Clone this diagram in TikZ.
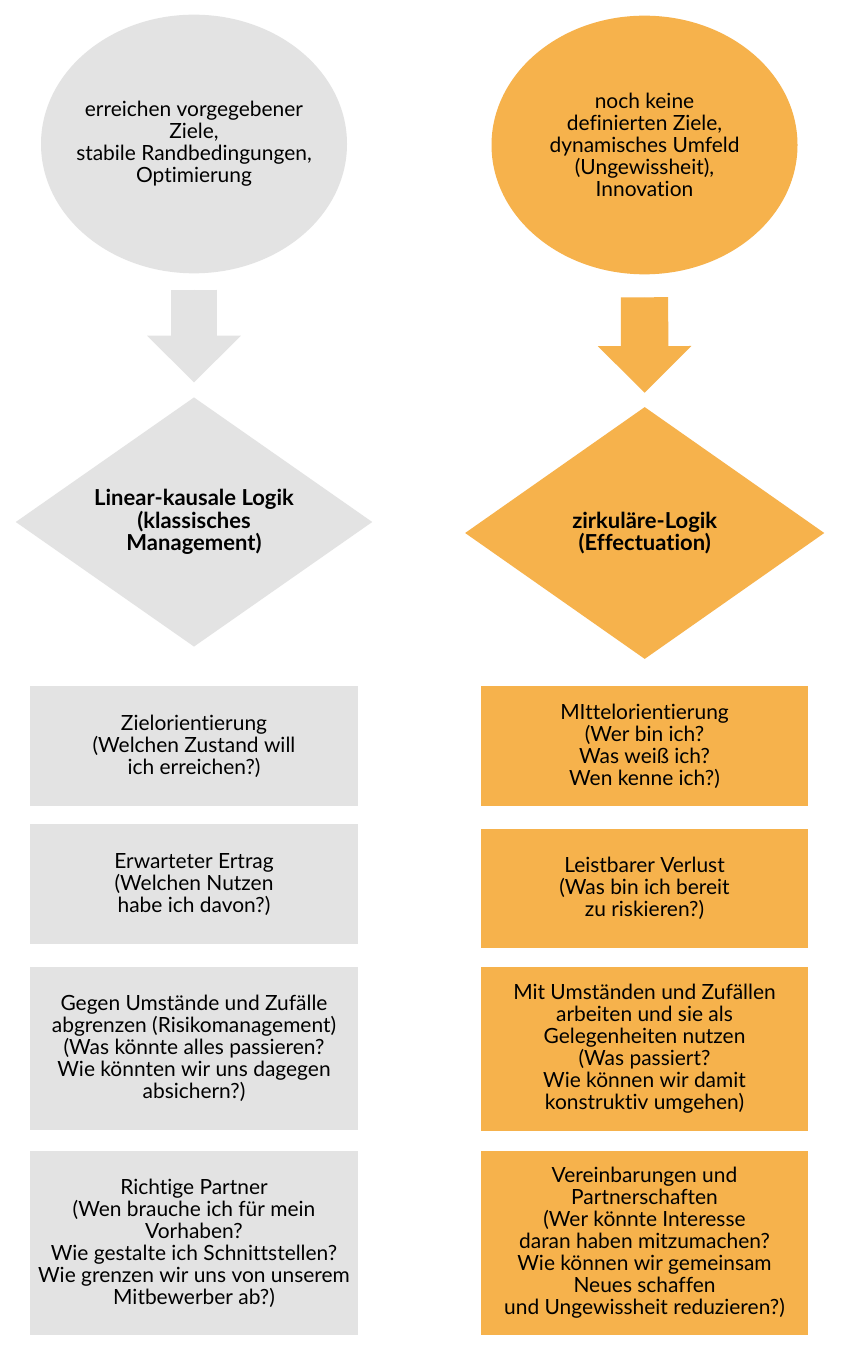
\documentclass[tikz,border=0pt]{standalone}
\usepackage{fontspec}
\setmainfont{Lato}[Ligatures={NoCommon}]
\usetikzlibrary{shapes.geometric,arrows.meta}
\definecolor{lgray}{HTML}{E3E3E3}
\definecolor{orng}{HTML}{F6B24C}
\tikzset{
  txt/.style={align=center, text=black, font=\fontsize{15.7}{16.5}\selectfont, inner sep=0pt},
  oval/.style={txt, shape=ellipse, inner xsep=-60pt, inner ysep=-40pt, minimum width=229.5pt, minimum height=194pt},
  rhomb/.style={txt, shape=diamond, inner xsep=-80pt, inner ysep=-40pt, font=\fontsize{16.5}{16.8}\selectfont\bfseries},
  boxg/.style={txt, shape=rectangle, fill=lgray, minimum width=246pt},
  boxo/.style={txt, shape=rectangle, fill=orng, minimum width=245.7pt},
  blockarrow/.style={line width=35pt, -{Triangle[width=70.3pt, length=35pt, line width=0pt]}},
}
\begin{document}
\begin{tikzpicture}[x=0.75pt,y=-0.75pt]
\useasboundingbox[fill=white] (0,0) rectangle (840,1351);
% top ellipses
\node[oval, fill=lgray] (e1) at (194,144) {erreichen vorgegebener\\Ziele,\\stabile Randbedingungen,\\Optimierung};
\node[oval, fill=orng] (e2) at (644.5,145) {noch keine\\definierten Ziele,\\dynamisches Umfeld\\(Ungewissheit),\\Innovation};
% diamonds
\node[rhomb, fill=lgray, minimum width=267.5pt, minimum height=187pt] (d1) at (194,522) {Linear-kausale Logik\\(klassisches\\Management)};
\node[rhomb, fill=orng, minimum width=269.5pt, minimum height=189pt] (d2) at (644.7,533) {zirkuläre-Logik\\(Effectuation)};
% block arrows
\draw[blockarrow, draw=lgray, fill=lgray, shorten <=12pt, shorten >=11pt] (e1.south) -- (d1.north);
\draw[blockarrow, draw=orng, fill=orng, line width=35.5pt, shorten <=17pt, shorten >=10.5pt] (e2.south) -- (d2.north);
% left boxes
\node[boxg, minimum height=90pt] (l1) at (194,746) {Zielorientierung\\(Welchen Zustand will\\ich erreichen?)};
\node[boxg, minimum height=90pt] (l2) at (194,884.3) {Erwarteter Ertrag\\(Welchen Nutzen\\habe ich davon?)};
\node[boxg, minimum height=122.5pt] (l3) at (194,1048.3) {Gegen Umstände und Zufälle\\abgrenzen (Risikomanagement)\\(Was könnte alles passieren?\\Wie könnten wir uns dagegen\\absichern?)};
\node[boxg, minimum height=138.5pt] (l4) at (194,1243) {Richtige Partner\\(Wen brauche ich für mein\\Vorhaben?\\Wie gestalte ich Schnittstellen?\\Wie grenzen wir uns von unserem\\Mitbewerber ab?)};
% right boxes
\node[boxo, minimum height=90pt] (r1) at (644.5,746) {MIttelorientierung\\(Wer bin ich?\\Was weiß ich?\\Wen kenne ich?)};
\node[boxo, minimum height=89.7pt] (r2) at (644.5,888.5) {Leistbarer Verlust\\(Was bin ich bereit\\zu riskieren?)};
\node[boxo, minimum height=123pt] (r3) at (644.5,1048.7) {Mit Umständen und Zufällen\\arbeiten und sie als\\Gelegenheiten nutzen\\(Was passiert?\\Wie können wir damit\\konstruktiv umgehen)};
\node[boxo, minimum height=138.5pt] (r4) at (644.5,1243) {Vereinbarungen und\\Partnerschaften\\(Wer könnte Interesse\\daran haben mitzumachen?\\Wie können wir gemeinsam\\Neues schaffen\\und Ungewissheit reduzieren?)};
\end{tikzpicture}
\end{document}
